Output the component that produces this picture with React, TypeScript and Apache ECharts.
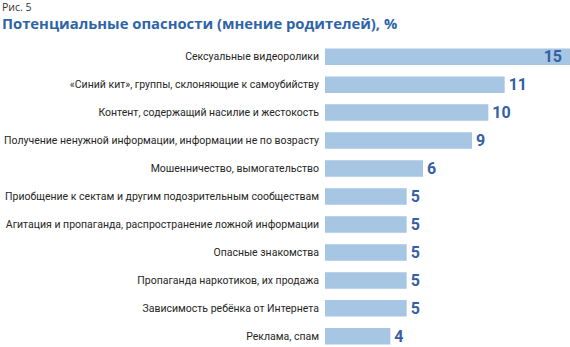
import React, { useEffect, useRef } from "react";
import * as echarts from "echarts";

const categories = [
  "Сексуальные видеоролики",
  "«Синий кит», группы, склоняющие к самоубийству",
  "Контент, содержащий насилие и жестокость",
  "Получение ненужной информации, информации не по возрасту",
  "Мошенничество, вымогательство",
  "Приобщение к сектам и другим подозрительным сообществам",
  "Агитация и пропаганда, распространение ложной информации",
  "Опасные знакомства",
  "Пропаганда наркотиков, их продажа",
  "Зависимость ребёнка от Интернета",
  "Реклама, спам",
];
const values = [15, 11, 10, 9, 6, 5, 5, 5, 5, 5, 4];
const figureLabel = "Рис. 5";
const chartTitle = "Потенциальные опасности (мнение родителей), %";

const labelFont = "Roboto, sans-serif";

export default function App() {
  const ref = useRef<HTMLDivElement>(null);
  useEffect(() => {
    if (!ref.current) return;
    const chart = echarts.init(ref.current, undefined, { renderer: "svg" });
    chart.setOption({
      animation: false,
      backgroundColor: "#ffffff",
      title: [
        {
          text: figureLabel,
          left: 2,
          top: 1,
          padding: 0,
          textStyle: { fontFamily: "'Open Sans', sans-serif", fontSize: 10.5, fontWeight: "normal", color: "#333333" },
        },
        {
          text: chartTitle,
          left: 2,
          top: 15,
          padding: 0,
          textStyle: { fontFamily: "'Open Sans', sans-serif", fontSize: 14.8, fontWeight: "bold", color: "#2f64a8" },
        },
      ],
      grid: { left: 325, top: 42.7, width: 245, height: 307.6, containLabel: false, outerBoundsMode: "none" },
      xAxis: {
        type: "value",
        min: 0,
        max: 15,
        show: false,
      },
      yAxis: {
        type: "category",
        data: categories,
        inverse: true,
        axisLine: { show: false },
        axisTick: { show: false },
        splitLine: { show: false },
        axisLabel: {
          margin: 6,
          fontFamily: labelFont,
          fontSize: 10.5,
          color: "#262626",
        },
      },
      series: [
        {
          type: "bar",
          data: values.map((v, i) => ({
            value: v,
            label: i === 0 ? { position: "insideRight", distance: 8 } : undefined,
          })),
          barWidth: 16.5,
          itemStyle: { color: "#a6c6e4" },
          label: {
            show: true,
            position: "right",
            distance: 4,
            fontFamily: labelFont,
            fontSize: 16,
            fontWeight: "bold",
            color: "#3460a4",
          },
        },
      ],
    });
    return () => chart.dispose();
  }, []);
  return <div ref={ref} style={{ position: "absolute", left: 0, top: 0, width: 570, height: 347 }} />;
}
